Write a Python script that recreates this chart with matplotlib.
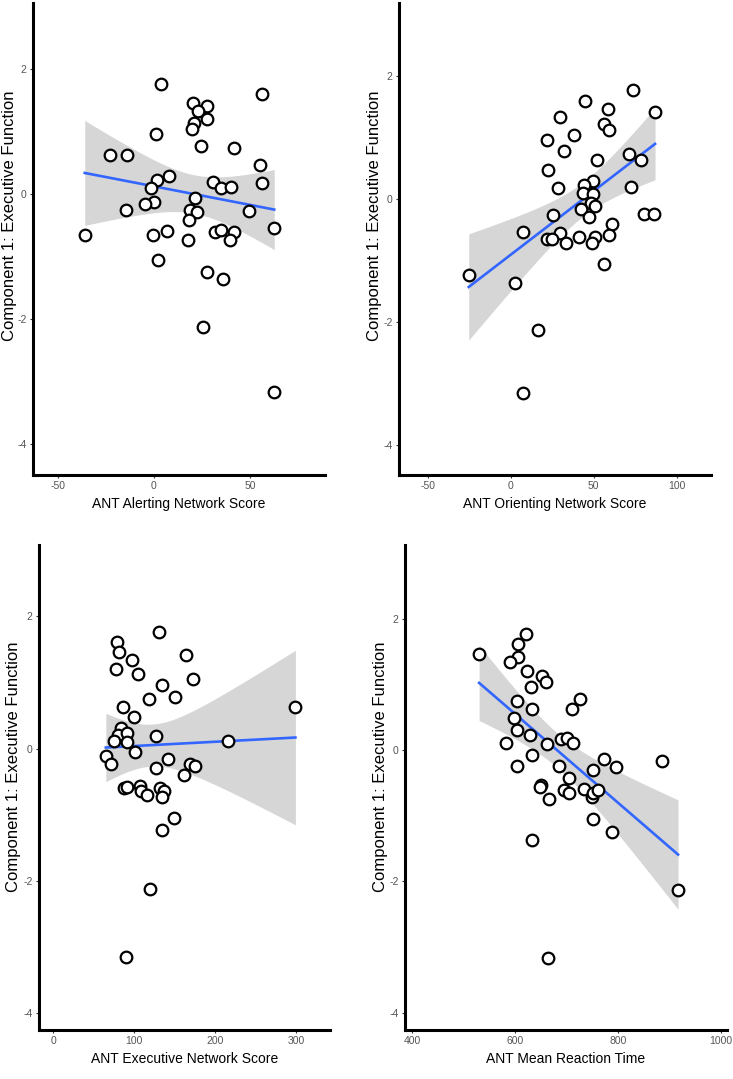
import numpy as np
import matplotlib
matplotlib.use("Agg")
import matplotlib.pyplot as plt

plt.rcParams['font.family'] = ['Liberation Sans', 'DejaVu Sans']

# ---------------- data ----------------
alert_x = [3.6, 56.3, 20.3, 27.4, 23.1, 27.4, 20.9, 19.8, 0.9, 24.5, 41.4, -22.7, -14.2,
           55.0, 7.8, 1.4, -1.4, 30.8, 34.6, 40.0, 55.9, 21.5, 0.2, -4.7, -14.5, 18.6,
           22.2, 49.5, 18.2, 62.5, -36.0, -0.7, 6.6, 17.8, 31.6, 35.0, 41.7, 39.3,
           1.9, 27.7, 36.0, 25.5, 62.5]
alert_y = [1.76, 1.60, 1.45, 1.41, 1.33, 1.20, 1.13, 1.04, 0.95, 0.76, 0.74, 0.62, 0.62,
           0.47, 0.29, 0.23, 0.10, 0.19, 0.10, 0.11, 0.17, -0.06, -0.13, -0.16, -0.26, -0.25,
           -0.29, -0.27, -0.42, -0.54, -0.66, -0.65, -0.60, -0.73, -0.61, -0.57, -0.61, -0.74,
           -1.05, -1.24, -1.36, -2.13, -3.16]

orient_x = [73.5, 44.6, 86.9, 58.4, 29.7, 56.0, 59.2, 38.3, 21.9, 32.1, 71.5, 52.2, 78.7,
            22.5, 49.6, 44.3, 28.5, 72.5, 43.4, 49.4, 48.4, 51.0, 42.3, 47.4, 25.3, 80.5,
            86.1, 61.2, 7.4, 29.9, 41.1, 50.6, 59.2, 22.1, 24.7, 33.3, 48.8,
            56.0, -25.3, 2.8, 16.6, 7.6]
orient_y = [1.78, 1.60, 1.41, 1.46, 1.34, 1.22, 1.13, 1.05, 0.96, 0.78, 0.74, 0.63, 0.63,
            0.48, 0.30, 0.23, 0.18, 0.20, 0.10, 0.09, -0.07, -0.12, -0.16, -0.29, -0.26, -0.25,
            -0.24, -0.41, -0.53, -0.56, -0.61, -0.61, -0.59, -0.65, -0.65, -0.71, -0.72,
            -1.05, -1.24, -1.36, -2.13, -3.16]

exec_x = [130.8, 79.6, 81.2, 164.4, 98.0, 77.9, 105.4, 173.4, 134.1, 118.5, 150.4, 86.1,
          299.3, 100.0, 84.5, 80.8, 91.0, 75.0, 91.9, 127.5, 216.5, 100.9, 65.2, 71.0,
          141.5, 127.5, 169.7, 175.9, 162.0,
          87.7, 91.9, 107.4, 108.6, 116.4, 131.6, 136.9, 134.1, 149.7, 134.9, 120.2, 90.2]
exec_y = [1.77, 1.61, 1.46, 1.42, 1.34, 1.21, 1.13, 1.05, 0.96, 0.75, 0.78, 0.63,
          0.63, 0.48, 0.31, 0.21, 0.23, 0.12, 0.10, 0.19, 0.11, -0.06, -0.12, -0.24,
          -0.16, -0.29, -0.24, -0.26, -0.40,
          -0.60, -0.58, -0.56, -0.65, -0.71, -0.59, -0.64, -0.73, -1.05, -1.23, -2.12, -3.15]

rt_x = [621.1, 606.2, 530.3, 606.2, 591.2, 623.6, 652.2, 659.3, 630.8, 725.4, 604.8, 709.9,
        632.8, 597.8, 603.0, 628.3, 583.4, 662.2, 688.8, 701.8, 712.2, 632.8, 884.8, 773.4,
        604.2, 684.5, 795.4, 750.9, 704.5, 651.1,
        649.5, 665.4, 694.6, 705.0, 734.2, 749.7, 752.2, 760.6, 750.8, 787.7, 632.4,
        916.7, 663.4]
rt_y = [1.77, 1.61, 1.46, 1.42, 1.34, 1.21, 1.13, 1.04, 0.96, 0.77, 0.74, 0.63,
        0.63, 0.48, 0.30, 0.23, 0.11, 0.09, 0.17, 0.19, 0.10, -0.07, -0.16, -0.13,
        -0.24, -0.25, -0.26, -0.30, -0.42, -0.53,
        -0.56, -0.74, -0.61, -0.65, -0.60, -0.72, -0.65, -0.61, -1.05, -1.24, -1.37,
        -2.13, -3.17]

x_titles = ["ANT Alerting Network Score", "ANT Orienting Network Score",
            "ANT Executive Network Score", "ANT Mean Reaction Time"]
y_title = "Component 1: Executive Function"
y_ticks = [-4, -2, 0, 2]
x_ticks = [[-50, 0, 50], [-50, 0, 50, 100], [0, 100, 200, 300], [400, 600, 800, 1000]]

# ---------------- layout (pixels in a 733 x 1079 image) ----------------
W, H = 733, 1079
panels = [
    # left, right, top, bottom (px), xlim, ylim, y-title centre (px), y-title offset (px)
    dict(box=(33, 325, 3, 475), xlim=(-62.9, 88.9), ylim=(-4.49, 3.05), ylab=216, off=23),
    dict(box=(399, 711, 3, 475), xlim=(-67.3, 120.6), ylim=(-4.49, 3.19), ylab=216, off=24),
    dict(box=(39, 330, 545, 1030), xlim=(-17.3, 342.0), ylim=(-4.26, 3.08), ylab=767, off=25),
    dict(box=(405, 727, 545, 1030), xlim=(386.4, 1011.7), ylim=(-4.26, 3.12), ylab=767, off=25),
]
data = [(alert_x, alert_y), (orient_x, orient_y), (exec_x, exec_y), (rt_x, rt_y)]

try:
    from scipy import stats
    def tq(df):
        return stats.t.ppf(0.975, df)
except Exception:
    def tq(df):
        return 2.02

fig = plt.figure(figsize=(W / 100, H / 100), dpi=100)
tick_col = '#555555'

for i, p in enumerate(panels):
    l, r, t, b = p['box']
    ax = fig.add_axes([l / W, 1 - b / H, (r - l) / W, (b - t) / H])
    x = np.asarray(data[i][0], float)
    y = np.asarray(data[i][1], float)
    n = len(x)
    slope, icpt = np.polyfit(x, y, 1)
    xs = np.linspace(x.min(), x.max(), 100)
    ys = icpt + slope * xs
    resid = y - (icpt + slope * x)
    s = np.sqrt(np.sum(resid ** 2) / (n - 2))
    sxx = np.sum((x - x.mean()) ** 2)
    se = s * np.sqrt(1.0 / n + (xs - x.mean()) ** 2 / sxx)
    tt = tq(n - 2)
    ax.fill_between(xs, ys - tt * se, ys + tt * se, color='#999999', alpha=0.4,
                    linewidth=0, zorder=1)
    ax.plot(xs, ys, color='#3366FF', linewidth=1.9, zorder=2)
    ax.scatter(x, y, s=70, facecolor='white', edgecolor='black', linewidths=1.6,
               zorder=3)
    ax.set_xlim(*p['xlim'])
    ax.set_ylim(*p['ylim'])
    ax.set_xticks(x_ticks[i])
    ax.set_yticks(y_ticks)
    ax.set_yticklabels([str(v) for v in y_ticks])
    ax.set_xticklabels([str(v) for v in x_ticks[i]])
    for side in ['top', 'right']:
        ax.spines[side].set_visible(False)
    for side in ['left', 'bottom']:
        ax.spines[side].set_linewidth(2.2)
        ax.spines[side].set_color('black')
    ax.tick_params(axis='both', colors='#333333', labelcolor=tick_col, labelsize=7.5,
                   length=2.5, width=0.8, pad=2)
    ax.set_xlabel(x_titles[i], fontsize=10, color='black', labelpad=4)
    ax.set_ylabel(y_title, fontsize=12, color='black')
    ax.yaxis.label.set_va('center')
    ax.yaxis.set_label_coords(-p['off'] / (r - l), (b - p['ylab']) / (b - t))

fig.savefig('out.png', dpi=100)
